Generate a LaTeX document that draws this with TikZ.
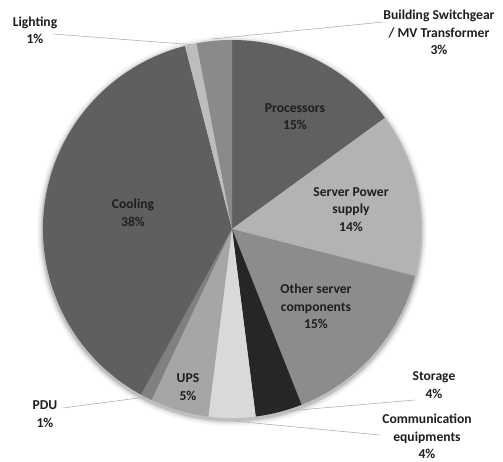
\documentclass[tikz,border=0pt]{standalone}
\usepackage{fontspec}
\setmainfont{Carlito}
\definecolor{cProc}{HTML}{606060}
\definecolor{cServ}{HTML}{B3B3B3}
\definecolor{cOther}{HTML}{8C8C8C}
\definecolor{cStor}{HTML}{262626}
\definecolor{cComm}{HTML}{D9D9D9}
\definecolor{cUPS}{HTML}{A6A6A6}
\definecolor{cPDU}{HTML}{808080}
\definecolor{cCool}{HTML}{5F5F5F}
\definecolor{cLight}{HTML}{BDBDBD}
\definecolor{cBuild}{HTML}{8A8A8A}
\definecolor{txt}{HTML}{1E1E1E}
\definecolor{leader}{HTML}{B0B0B0}
\newcommand{\pieslice}[3]{\fill[#1] (232,232) -- ++(#2:189) arc[start angle=#2, end angle=#3, radius=189] -- cycle;}
\tikzset{
  lbl/.style={font=\fontsize{13.6}{17.5}\selectfont\bfseries, text=txt, align=center, inner sep=0pt},
  lead/.style={draw=leader, line width=0.6pt}
}
\begin{document}
\begin{tikzpicture}[x=1pt,y=1pt]
\useasboundingbox (0,0) rectangle (503,461);
% soft shadow
\foreach \r/\o in {195/0.04,193/0.06,191.5/0.08,190.5/0.10}{
  \fill[black,opacity=\o] (232,230) circle[radius=\r];
}
% slices (clockwise from top)
\pieslice{cProc}{90}{36}
\pieslice{cServ}{36}{-14.4}
\pieslice{cOther}{-14.4}{-68.4}
\pieslice{cStor}{-68.4}{-82.8}
\pieslice{cComm}{-82.8}{-97.2}
\pieslice{cUPS}{-97.2}{-115.2}
\pieslice{cPDU}{-115.2}{-118.8}
\pieslice{cCool}{-118.8}{-255.6}
\pieslice{cLight}{-255.6}{-259.2}
\pieslice{cBuild}{-259.2}{-270}
% inside labels
\node[lbl] (proc) at (295,344.5) {Processors\\15\%};
\node[lbl] (serv) at (351,251.5) {Server Power\\supply\\14\%};
\node[lbl] (other) at (316,154.5) {Other server\\components\\15\%};
\node[lbl] (cool) at (133,248) {Cooling\\38\%};
\node[lbl] (ups) at (188,74) {UPS\\5\%};
% outside labels
\node[lbl] (light) at (35,430.5) {Lighting\\1\%};
\node[lbl] (build) at (439,428.5) {Building Switchgear\\/ MV Transformer\\3\%};
\node[lbl] (pdu) at (45,47) {PDU\\1\%};
\node[lbl] (stor) at (434,76) {Storage\\4\%};
\node[lbl] (comm) at (427,24.5) {Communication\\equipments\\4\%};
% leader line end points
\coordinate (lightA) at (53,427);
\coordinate (lightB) at (191,416.4);
\coordinate (buildA) at (383,439);
\coordinate (buildB) at (212,422);
\coordinate (pduA) at (63,53);
\coordinate (pduB) at (146,64);
\coordinate (storA) at (415,61);
\coordinate (storB) at (287,50);
\coordinate (commA) at (380,26);
\coordinate (commB) at (233,40);
\draw[lead] (lightA) -- (lightB);
\draw[lead] (buildA) -- (buildB);
\draw[lead] (pduA) -- (pduB);
\draw[lead] (storA) -- (storB);
\draw[lead] (commA) -- (commB);
\end{tikzpicture}
\end{document}
